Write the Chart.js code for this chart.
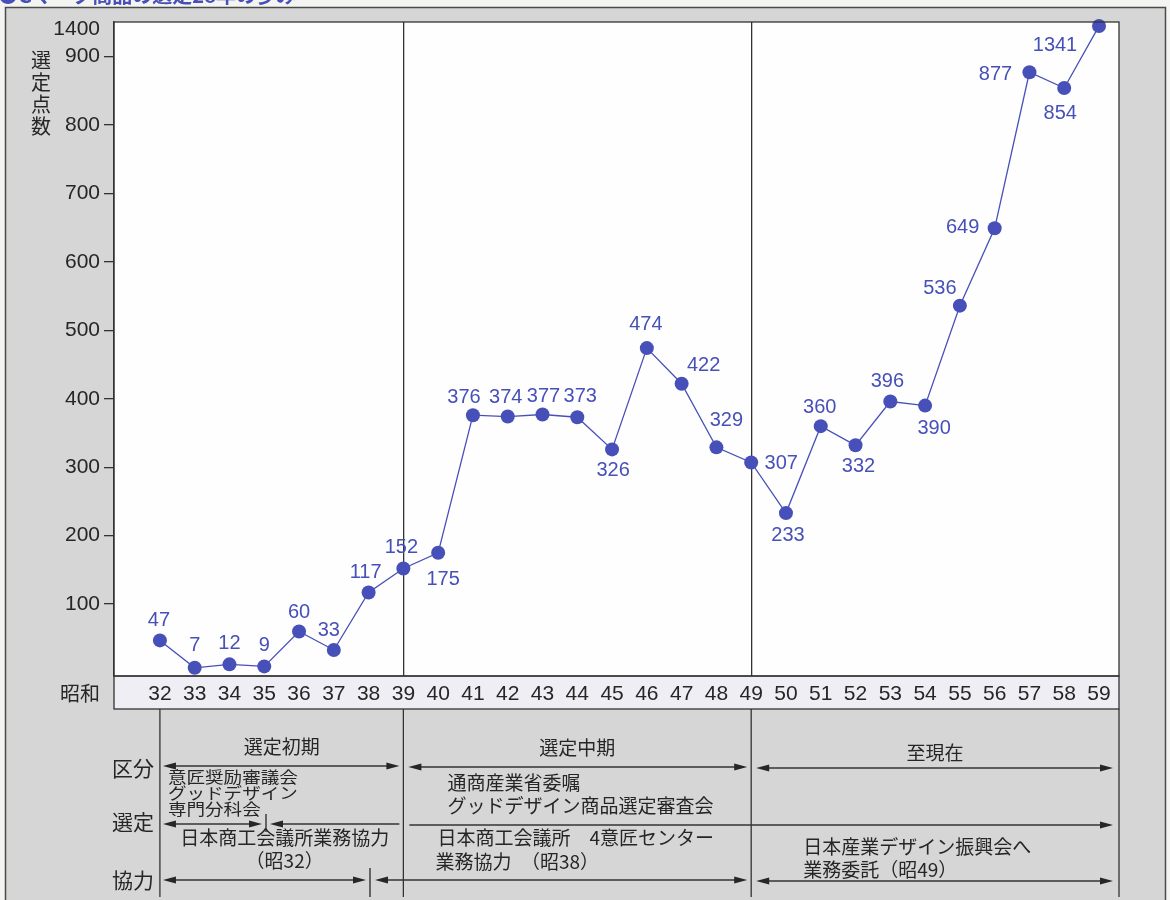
<!DOCTYPE html>
<html lang="ja">
<head>
<meta charset="utf-8">
<title>Gマーク商品の選定点数の推移</title>
<script src="https://cdn.jsdelivr.net/npm/chart.js@4.4.1/dist/chart.umd.min.js"></script>
<style>
  html, body { margin: 0; padding: 0; background: #f4f4f2; }
  canvas { display: block; }
</style>
</head>
<body>
<canvas id="chart" width="1170" height="900"></canvas>
<script>
// 昭和の年
const years = [32, 33, 34, 35, 36, 37, 38, 39, 40, 41, 42, 43, 44, 45,
               46, 47, 48, 49, 50, 51, 52, 53, 54, 55, 56, 57, 58, 59];
// 各年の選定点数
const counts = [47, 7, 12, 9, 60, 33, 117, 152, 175, 376, 374, 377, 373, 326,
                474, 422, 329, 307, 233, 360, 332, 396, 390, 536, 649, 877, 854, 1341];
// 縦軸の目盛（900 より上は省略して 1400 を示す）
const yTickValues = [100, 200, 300, 400, 500, 600, 700, 800, 900, 1400];
// 時期の区切り線を引く年
const dividerYears = [39, 49];

const BLUE = '#4750b8';
const INK = '#262626';
const NUM_FONT = "'Liberation Sans Narrow', 'Liberation Sans', Arial, sans-serif";
const JP_FONT = "'Noto Sans CJK JP', 'Noto Sans', sans-serif";

// 900 から上を圧縮した縦軸
const BREAK_AT = 900;
const BREAK_RATIO = 0.1008;
const compress = v => v <= BREAK_AT ? v : BREAK_AT + (v - BREAK_AT) * BREAK_RATIO;
const expand = d => d <= BREAK_AT ? d : BREAK_AT + (d - BREAK_AT) / BREAK_RATIO;

class BrokenLinearScale extends Chart.LinearScale {
  getPixelForValue(value) {
    if (value === null || isNaN(value)) return NaN;
    return this.getPixelForDecimal((compress(value) - this.min) / (this.max - this.min));
  }
  getValueForPixel(pixel) {
    return expand(this.min + this.getDecimalForPixel(pixel) * (this.max - this.min));
  }
  getPixelForTick(index) {
    const t = this.ticks[index];
    const p = this.getPixelForValue(t.value);
    // 省略部の上端ラベルは枠の内側に寄せる
    return t.value > BREAK_AT ? p + 7 : p;
  }
}
BrokenLinearScale.id = 'brokenLinear';
BrokenLinearScale.defaults = Chart.LinearScale.defaults;
Chart.register(BrokenLinearScale);

function arrow(ctx, x1, x2, y, headLeft, headRight) {
  const L = 13, h = 3.6;
  ctx.beginPath();
  ctx.moveTo(headLeft ? x1 + L - 1 : x1, y);
  ctx.lineTo(headRight ? x2 - L + 1 : x2, y);
  ctx.stroke();
  if (headLeft) {
    ctx.beginPath();
    ctx.moveTo(x1, y); ctx.lineTo(x1 + L, y - h); ctx.lineTo(x1 + L, y + h);
    ctx.closePath(); ctx.fill();
  }
  if (headRight) {
    ctx.beginPath();
    ctx.moveTo(x2, y); ctx.lineTo(x2 - L, y - h); ctx.lineTo(x2 - L, y + h);
    ctx.closePath(); ctx.fill();
  }
}

function vline(ctx, x, y1, y2) {
  ctx.beginPath(); ctx.moveTo(x, y1); ctx.lineTo(x, y2); ctx.stroke();
}

function text(ctx, str, x, y, size, align, sx) {
  ctx.save();
  ctx.font = size + 'px ' + JP_FONT;
  ctx.textAlign = align || 'left';
  ctx.textBaseline = 'middle';
  if (sx) {
    ctx.translate(x, y); ctx.scale(sx, 1); ctx.fillText(str, 0, 0);
  } else {
    ctx.fillText(str, x, y);
  }
  ctx.restore();
}

const BAND_H = 33;

// 背景・枠・帯
const panelPlugin = {
  id: 'panel',
  beforeDraw(chart) {
    const { ctx, chartArea: a, width, height } = chart;
    ctx.save();
    ctx.fillStyle = '#f4f4f2';
    ctx.fillRect(0, 0, width, height);
    ctx.fillStyle = '#d6d6d6';
    ctx.fillRect(5, 7, 1161, height);

    // 見出し（上端で切れている）
    ctx.fillStyle = BLUE;
    ctx.font = 'bold 20px ' + JP_FONT;
    ctx.textBaseline = 'bottom';
    ctx.fillText('●Gマーク商品の選定28年の歩み', -2, 5);

    ctx.strokeStyle = '#4a4a4a';
    ctx.lineWidth = 1.5;
    ctx.strokeRect(5.5, 7.5, 1160, height + 10);

    ctx.fillStyle = '#fefefe';
    ctx.fillRect(a.left, a.top, a.right - a.left, a.bottom - a.top);
    ctx.fillStyle = '#eeeef4';
    ctx.fillRect(a.left, a.bottom, a.right - a.left, BAND_H);
    ctx.restore();
  },
  afterDraw(chart) {
    const { ctx, chartArea: a, scales } = chart;
    const x = v => scales.x.getPixelForValue(v);
    const x32 = x(32), x39 = x(39), x49 = x(49), xr = a.right;
    const bandBottom = a.bottom + BAND_H;
    const bottom = 897;

    ctx.save();
    ctx.strokeStyle = '#333';
    ctx.fillStyle = INK;
    ctx.lineWidth = 1.3;
    ctx.strokeRect(a.left, a.top, a.right - a.left, a.bottom - a.top);
    ctx.strokeRect(a.left, a.bottom, a.right - a.left, BAND_H);

    // 下段の縦線
    [x32, x39, x49, xr].forEach(px => vline(ctx, px, bandBottom, bottom));

    // 縦軸の見出し
    ['選', '定', '点', '数'].forEach((ch, i) => text(ctx, ch, 41, [60, 82, 104, 126][i], 20, 'center'));
    text(ctx, '昭和', 80, a.bottom + 17, 20, 'center');

    // 行見出し
    text(ctx, '区分', 133, 768, 21, 'center');
    text(ctx, '選定', 133, 822, 21, 'center');
    text(ctx, '協力', 133, 880, 21, 'center');

    ctx.lineWidth = 1.4;
    // 区分
    text(ctx, '選定初期', (x32 + x39) / 2, 747, 19, 'center');
    text(ctx, '選定中期', (x39 + x49) / 2, 748, 19, 'center');
    text(ctx, '至現在', (x49 + xr) / 2, 753, 19, 'center');
    arrow(ctx, x32 + 3, x39 - 4, 766, true, true);
    arrow(ctx, x39 + 5, x49 - 4, 767, true, true);
    arrow(ctx, x49 + 5, xr - 6, 768, true, true);

    // 選定
    text(ctx, '意匠奨励審議会', x32 + 8, 777, 16, 'left', 1.16);
    text(ctx, 'グッドデザイン', x32 + 8, 793, 16, 'left', 1.16);
    text(ctx, '専門分科会', x32 + 8, 809, 16, 'left', 1.16);
    arrow(ctx, x32 + 3, 262, 824, true, true);
    vline(ctx, 266, 814, 832);
    arrow(ctx, 270, x39 - 4, 824, true, false);
    text(ctx, '通商産業省委嘱', x39 + 44, 783, 19, 'left');
    text(ctx, 'グッドデザイン商品選定審査会', x39 + 44, 806, 19, 'left');
    arrow(ctx, x39 + 6, xr - 6, 825, false, true);

    // 協力
    text(ctx, '日本商工会議所業務協力', (x32 + x39) / 2 + 3, 838, 19, 'center');
    text(ctx, '（昭32）', (x32 + x39) / 2 + 3, 861, 19, 'center');
    text(ctx, '日本商工会議所　4意匠センター', x39 + 34, 838, 19, 'left');
    text(ctx, '業務協力　（昭38）', x39 + 32, 862, 19, 'left');
    text(ctx, '日本産業デザイン振興会へ', x49 + 52, 847, 19, 'left');
    text(ctx, '業務委託（昭49）', x49 + 52, 870, 19, 'left');
    arrow(ctx, x32 + 3, 366, 880, true, true);
    vline(ctx, 370, 868, 897);
    arrow(ctx, 375, x49 - 4, 880, true, true);
    arrow(ctx, x49 + 5, xr - 6, 881, true, true);
    ctx.restore();
  }
};

// 各点の数値ラベル
const pointLabelPlugin = {
  id: 'pointLabels',
  afterDatasetsDraw(chart, args, opts) {
    const { ctx } = chart;
    const meta = chart.getDatasetMeta(0);
    const data = chart.data.datasets[0].data;
    ctx.save();
    ctx.fillStyle = BLUE;
    ctx.font = opts.size + 'px ' + NUM_FONT;
    ctx.textAlign = 'center';
    ctx.textBaseline = 'middle';
    meta.data.forEach((pt, i) => {
      const [dx, dy] = opts.offsets[i];
      ctx.fillText(String(data[i].y), pt.x + dx, pt.y + dy);
    });
    ctx.restore();
  }
};

new Chart(document.getElementById('chart'), {
  type: 'line',
  data: {
    datasets: [{
      data: years.map((yr, i) => ({ x: yr, y: counts[i] })),
      borderColor: BLUE,
      borderWidth: 1.3,
      backgroundColor: BLUE,
      pointBackgroundColor: BLUE,
      pointBorderWidth: 0,
      pointRadius: 7,
      pointHoverRadius: 7,
      tension: 0,
      clip: false
    }]
  },
  options: {
    responsive: false,
    animation: false,
    devicePixelRatio: 1,
    events: [],
    layout: { padding: { top: 22, right: 51, left: 0, bottom: 0 } },
    plugins: {
      legend: { display: false },
      tooltip: { enabled: false },
      pointLabels: {
        size: 20,
        offsets: [
          [-1, -20], [0, -22], [0, -21], [0, -21], [0, -19], [-5, -20], [-3, -20],
          [-2, -21], [5, 27], [-9, -18], [-2, -19], [1, -18], [3, -21], [1, 21],
          [-1, -24], [22, -18], [10, -27], [30, 1], [2, 22], [-1, -19], [3, 21],
          [-3, -20], [9, 23], [-20, -17], [-32, -1], [-34, 2], [-4, 25], [-44, 19]
        ]
      }
    },
    scales: {
      x: {
        type: 'linear',
        bounds: 'data',
        min: 30.68,
        max: 59.575,
        afterBuildTicks: s => { s.ticks = years.map(v => ({ value: v })); },
        afterFit: s => { s.height = 900 - 676; },
        border: { display: false },
        grid: {
          drawTicks: false,
          drawOnChartArea: true,
          lineWidth: 1.3,
          color: c => (c.tick && dividerYears.includes(c.tick.value)) ? '#333' : 'rgba(0,0,0,0)'
        },
        ticks: {
          autoSkip: false,
          maxRotation: 0,
          padding: 6,
          color: INK,
          font: { family: NUM_FONT, size: 21 },
          callback: v => String(v)
        }
      },
      y: {
        type: 'brokenLinear',
        bounds: 'data',
        min: -5,
        max: 950.4,
        afterBuildTicks: s => { s.ticks = yTickValues.map(v => ({ value: v })); },
        afterFit: s => { s.width = 114; },
        border: { display: true, color: '#333', width: 1.3 },
        grid: {
          drawOnChartArea: false,
          drawTicks: true,
          tickLength: 10,
          lineWidth: 1.3,
          color: c => (c.tick && c.tick.value > BREAK_AT) ? 'rgba(0,0,0,0)' : '#333'
        },
        ticks: {
          padding: 4,
          color: INK,
          font: { family: NUM_FONT, size: 21 },
          callback: v => String(v)
        }
      }
    }
  },
  plugins: [panelPlugin, pointLabelPlugin]
});
</script>
</body>
</html>
